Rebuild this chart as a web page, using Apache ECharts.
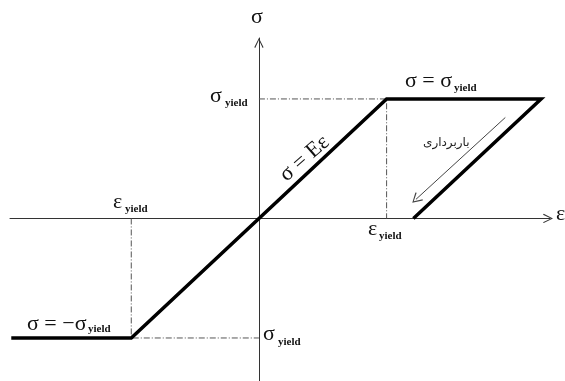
<!DOCTYPE html>
<html>
<head>
<meta charset="utf-8">
<script src="https://cdn.jsdelivr.net/npm/echarts@6/dist/echarts.min.js"></script>
<style>
  html, body { margin: 0; padding: 0; background: #fff; }
  #chart { width: 565px; height: 381px; }
</style>
</head>
<body>
<div id="chart"></div>
<script>
// elastic-perfectly-plastic curve (strain, stress), yield = 1
const curveX = [-1.94, -1, 1, 2.21, 1.21];
const curveY = [-1, -1, 1, 1, 0];
// dash-dot guide lines to the yield point
const guideUpX = [0, 1, 1];
const guideUpY = [1, 1, 0];
const guideLowX = [-1, -1, 0];
const guideLowY = [0, -1, -1];
// unloading arrow
const unloadFrom = [1.93, 0.845];
const unloadTo = [1.23, 0.16];

const zip = (xs, ys) => xs.map((x, i) => [x, ys[i]]);

const chevron = 'path://M0,10 L5,0 L10,10 L9,10.8 L5,2.2 L1,10.8 Z';
const serif = 'Liberation Serif';

// main glyph + bold "yield" subscript
function label(x, y, main, subDx, subDy) {
  const children = [{
    type: 'text', x: 0, y: 0,
    style: { text: main, font: '22px ' + serif, fill: '#111', verticalAlign: 'bottom' }
  }];
  if (subDx) {
    children.push({
      type: 'text', x: subDx, y: subDy == null ? 1.5 : subDy,
      style: { text: 'yield', font: 'bold 11px ' + serif, fill: '#111', verticalAlign: 'bottom' }
    });
  }
  return { type: 'group', x: x, y: y, children: children };
}

const chart = echarts.init(document.getElementById('chart'));
chart.setOption({
  animation: false,
  grid: { left: 10, right: 15, top: 38, bottom: 0 },
  xAxis: {
    type: 'value', min: -1.95, max: 2.28,
    axisLine: { onZero: true, lineStyle: { color: '#333', width: 1 },
      symbol: ['none', chevron], symbolSize: [11, 10], symbolOffset: [0, -2] },
    axisTick: { show: false }, axisLabel: { show: false }, splitLine: { show: false }
  },
  yAxis: {
    type: 'value', min: -1.36, max: 1.51,
    axisLine: { onZero: true, lineStyle: { color: '#333', width: 1 },
      symbol: ['none', chevron], symbolSize: [11, 10], symbolOffset: [0, -5] },
    axisTick: { show: false }, axisLabel: { show: false }, splitLine: { show: false }
  },
  series: [
    {
      type: 'line', data: zip(guideUpX, guideUpY), symbol: 'none', silent: true,
      lineStyle: { color: '#555', width: 1, type: [6, 2, 1, 2] }
    },
    {
      type: 'line', data: zip(guideLowX, guideLowY), symbol: 'none', silent: true,
      lineStyle: { color: '#555', width: 1, type: [6, 2, 1, 2] }
    },
    {
      type: 'line', data: zip(curveX, curveY), symbol: 'none',
      lineStyle: { color: '#000', width: 3.5, cap: 'butt', join: 'miter' },
      markLine: {
        silent: true, symbol: ['none', chevron], symbolSize: [11, 10],
        label: { show: false },
        lineStyle: { color: '#444', width: 1, type: 'solid' },
        data: [[{ coord: unloadFrom }, { coord: unloadTo }]]
      }
    }
  ],
  graphic: [
    label(251, 28, 'σ'),
    label(210, 107, 'σ', 15),
    label(405, 92, 'σ = σ', 49),
    label(556, 225, 'ε'),
    label(368, 240, 'ε', 11),
    label(113, 213, 'ε', 12),
    label(27, 335, 'σ = −σ', 61, 0),
    label(263, 345, 'σ', 15, 3),
    {
      type: 'text', x: 290, y: 186, rotation: 0.72,
      style: { text: 'σ = Eε', font: '22px ' + serif, fill: '#111', verticalAlign: 'bottom' }
    },
    {
      type: 'text', x: 423, y: 149,
      style: { text: 'باربرداری', font: '12px "DejaVu Sans"', fill: '#222', verticalAlign: 'bottom' }
    }
  ]
});
</script>
</body>
</html>
